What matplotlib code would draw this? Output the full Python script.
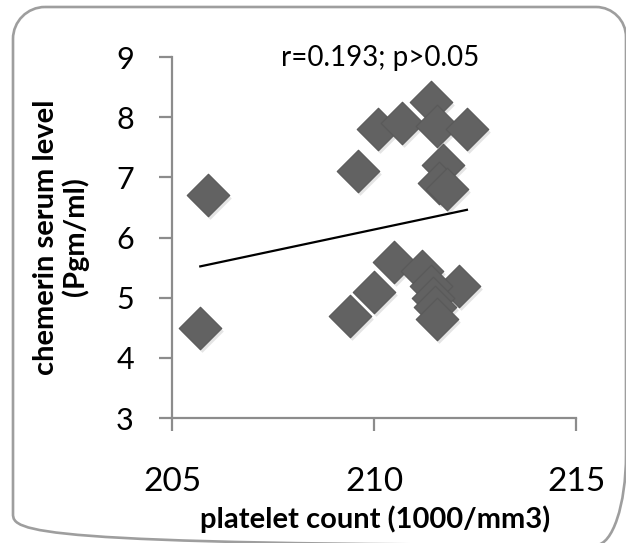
import matplotlib
matplotlib.use("Agg")
import matplotlib.pyplot as plt
from matplotlib.path import Path
from matplotlib.patches import PathPatch
from matplotlib.transforms import IdentityTransform, ScaledTranslation

# ---- data ----
platelet = [205.9, 205.7, 209.6, 210.1, 210.7, 211.4, 211.55, 212.3, 211.7, 211.6,
            211.8, 210.5, 211.2, 210.0, 209.4, 212.1, 211.4, 211.45, 211.5, 211.55]
chemerin = [6.7, 4.5, 7.1, 7.8, 7.9, 8.25, 7.85, 7.8, 7.2, 6.9,
            6.8, 5.6, 5.45, 5.1, 4.7, 5.2, 5.2, 5.0, 4.85, 4.65]
trend_x = [205.7, 212.3]
trend_y = [5.52, 6.46]
x_ticks = [205, 210, 215]
y_ticks = [3, 4, 5, 6, 7, 8, 9]
annotation = "r=0.193; p>0.05"
x_label = "platelet count (1000/mm3)"
y_label = "chemerin serum level\n(Pgm/ml)"

W, H = 626, 543
plt.rcParams['font.family'] = ['Lato', 'DejaVu Sans']
fig = plt.figure(figsize=(W / 100, H / 100), dpi=100)
ax = fig.add_axes([172 / W, 125 / H, (576 - 172) / W, (418 - 57) / H])

# shadow then markers
ax.scatter(platelet, chemerin, marker='D', s=470, color='#c4c4c4', alpha=0.45,
           linewidths=0, zorder=2,
           transform=ax.transData + ScaledTranslation(2 / 100, -3 / 100, fig.dpi_scale_trans))
ax.scatter(platelet, chemerin, marker='D', s=470, color='#626262',
           edgecolors='#595959', linewidths=0.8, zorder=3)
ax.plot(trend_x, trend_y, color='black', lw=1.6, zorder=4)

ax.set_xlim(205, 215)
ax.set_ylim(3, 9)
ax.set_xticks(x_ticks)
ax.set_yticks(y_ticks)
for s in ['top', 'right']:
    ax.spines[s].set_visible(False)
for s in ['left', 'bottom']:
    ax.spines[s].set_color('#8c8c8c')
    ax.spines[s].set_linewidth(1.6)
ax.tick_params(axis='both', direction='out', length=9.5, width=1.6, color='#8c8c8c')
ax.tick_params(axis='y', labelsize=22, pad=18)
ax.tick_params(axis='x', labelsize=24, pad=26)

ax.text(210.15, 8.98, annotation, ha='center', va='center', fontsize=20)

fig.text(61 / W, (H - 237) / H, y_label, rotation=90, ha='center', va='center',
         fontsize=21, fontweight='bold', multialignment='center', linespacing=1.15)
fig.text(375 / W, (H - 519) / H, x_label, ha='center', va='center',
         fontsize=21, fontweight='bold')

# rounded border (pixel coordinates, origin bottom-left)
L, R, T, B = 13, 626, H - 7, H - 545
rtl, rtr, rbl = 32, 30, 31
rbr_x, rbr_y = 30, 90
k = 0.5523
verts = [
    (L + rtl, T), (R - rtr, T),
    (R - rtr + k * rtr, T), (R, T - rtr + k * rtr), (R, T - rtr),
    (R, B + rbr_y),
    (R, B + rbr_y - k * rbr_y), (R - rbr_x + k * rbr_x, B), (R - rbr_x, B),
    (L + rbl, B),
    (L + rbl - k * rbl, B), (L, B + rbl - k * rbl), (L, B + rbl),
    (L, T - rtl),
    (L, T - rtl + k * rtl), (L + rtl - k * rtl, T), (L + rtl, T),
]
codes = [Path.MOVETO, Path.LINETO,
         Path.CURVE4, Path.CURVE4, Path.CURVE4,
         Path.LINETO,
         Path.CURVE4, Path.CURVE4, Path.CURVE4,
         Path.LINETO,
         Path.CURVE4, Path.CURVE4, Path.CURVE4,
         Path.LINETO,
         Path.CURVE4, Path.CURVE4, Path.CURVE4]
border = PathPatch(Path(verts, codes), facecolor='none', edgecolor='#9e9e9e',
                   lw=1.9, transform=IdentityTransform())
fig.patches.append(border)

fig.savefig('out.png', dpi=100)
